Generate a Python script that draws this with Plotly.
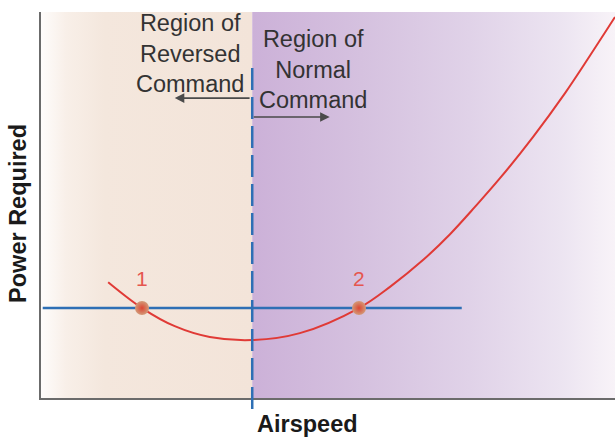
import plotly.graph_objects as go

# ---- data (arbitrary units 0-100) ----
airspeed = [11.7, 17.6, 23.3, 29.4, 36.8, 45.1, 55.4, 60.8, 66.6, 71.3, 75.6, 80.0, 85.7, 91.3, 95.6, 100.0]
power_required = [30.0, 23.3, 18.6, 15.8, 15.0, 16.8, 23.3, 28.8, 35.8, 42.5, 49.5, 57.0, 67.6, 79.0, 88.6, 98.7]

min_power_speed = 36.8          # boundary between regions (minimum-power airspeed)
power_available = 23.3          # horizontal power setting
power_line_x = [0.3, 73.3]      # extent of the horizontal line
intersect_speeds = [17.6, 55.4] # points 1 and 2
point_labels = ["1", "2"]

x_range = [0, 100]
y_range = [0, 100]

FONT = "Liberation Sans, Arial, sans-serif"

fig = go.Figure()

# background regions with horizontal gradients
fig.add_trace(go.Scatter(
    x=[x_range[0], min_power_speed, min_power_speed, x_range[0], x_range[0]],
    y=[y_range[0], y_range[0], y_range[1], y_range[1], y_range[0]],
    mode="lines", line=dict(width=0), fill="toself",
    fillgradient=dict(type="horizontal",
                      colorscale=[[0, "#fefcfb"], [0.12, "#f8efe8"], [0.3, "#f4e7dd"], [1, "#f3e4d9"]]),
    hoverinfo="skip", showlegend=False))
fig.add_trace(go.Scatter(
    x=[min_power_speed, x_range[1], x_range[1], min_power_speed, min_power_speed],
    y=[y_range[0], y_range[0], y_range[1], y_range[1], y_range[0]],
    mode="lines", line=dict(width=0), fill="toself",
    fillgradient=dict(type="horizontal",
                      colorscale=[[0, "#ccb1d8"], [0.3, "#d5c1df"], [0.6, "#e0d2e8"], [0.85, "#ece4f1"], [1, "#f8f3f8"]]),
    hoverinfo="skip", showlegend=False))

# horizontal power line
fig.add_trace(go.Scatter(
    x=power_line_x, y=[power_available, power_available],
    mode="lines", line=dict(color="#2e6fb5", width=2.5),
    hoverinfo="skip", showlegend=False))

# power required curve
fig.add_trace(go.Scatter(
    x=airspeed, y=power_required, mode="lines",
    line=dict(color="#e03a36", width=2, shape="spline", smoothing=1.0),
    hoverinfo="skip", showlegend=False))

# intersection points
fig.add_trace(go.Scatter(
    x=intersect_speeds, y=[power_available] * len(intersect_speeds),
    mode="markers",
    marker=dict(size=14, color="#d39a78", line=dict(width=0),
                gradient=dict(type="radial", color="#dc4634")),
    cliponaxis=False, hoverinfo="skip", showlegend=False))
for sx, lab in zip(intersect_speeds, point_labels):
    fig.add_annotation(x=sx, y=power_available, xref="x", yref="y", text=lab,
                       showarrow=False, yshift=30, xanchor="center", yanchor="middle",
                       font=dict(family=FONT, size=21, color="#e5564f"))

# dashed vertical line at the boundary (extends a bit below the axis)
fig.add_shape(type="line", xref="x", yref="paper",
              x0=min_power_speed, x1=min_power_speed, y0=0.855, y1=-0.04,
              line=dict(color="#2e6fb5", width=2.5, dash="22px,7px"))

# region texts
fig.add_annotation(x=26.0, y=0.892, xref="x", yref="paper",
                   text="Region of<br>Reversed<br>Command", showarrow=False,
                   align="center", xanchor="center", yanchor="middle",
                   font=dict(family=FONT, size=23.5, color="#333333"))
fig.add_annotation(x=47.4, y=0.852, xref="x", yref="paper",
                   text="Region of<br>Normal<br>Command", showarrow=False,
                   align="center", xanchor="center", yanchor="middle",
                   font=dict(family=FONT, size=23.5, color="#333333"))

# arrows
fig.add_annotation(x=23.3, y=77.7, ax=36.6, ay=77.7, xref="x", yref="y",
                   axref="x", ayref="y", text="", showarrow=True,
                   arrowhead=2, arrowsize=1.2, arrowwidth=1.6, arrowcolor="#4a4a4a")
fig.add_annotation(x=50.3, y=72.8, ax=36.8, ay=72.8, xref="x", yref="y",
                   axref="x", ayref="y", text="", showarrow=True,
                   arrowhead=2, arrowsize=1.2, arrowwidth=1.6, arrowcolor="#4a4a4a")

# axis titles
fig.add_annotation(x=-0.04, y=0.477, xref="paper", yref="paper",
                   text="<b>Power Required</b>", textangle=-90, showarrow=False,
                   xanchor="center", yanchor="middle",
                   font=dict(family=FONT, size=23.5, color="#1a1a1a"))
fig.add_annotation(x=46.5, y=-0.068, xref="x", yref="paper",
                   text="<b>Airspeed</b>", showarrow=False,
                   xanchor="center", yanchor="middle",
                   font=dict(family=FONT, size=23.5, color="#1a1a1a"))

fig.update_xaxes(range=x_range, showgrid=False, zeroline=False, showticklabels=False,
                 ticks="", showline=True, linecolor="#6b6b6b", linewidth=2)
fig.update_yaxes(range=y_range, showgrid=False, zeroline=False, showticklabels=False,
                 ticks="", showline=True, linecolor="#6b6b6b", linewidth=2)

fig.update_layout(width=615, height=437,
                  margin=dict(l=41, r=0, t=12, b=39),
                  paper_bgcolor="white", plot_bgcolor="white",
                  showlegend=False, hovermode=False)

# remove the default 8px page margin so the figure fills the window exactly
fig.write_html("out.html",
               config={"displayModeBar": False, "staticPlot": True},
               post_script="document.body.style.margin='0px';document.body.style.overflow='hidden';")
